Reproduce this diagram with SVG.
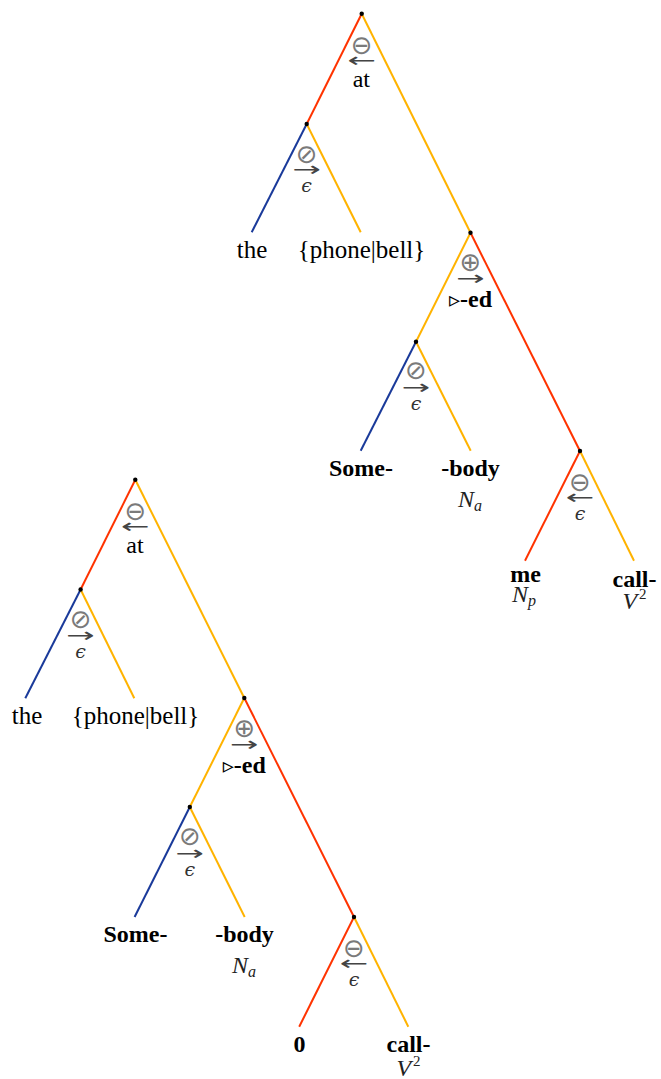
<svg xmlns="http://www.w3.org/2000/svg" width="661" height="1079" viewBox="0 0 661 1079">
<style>
.e{stroke-width:2;fill:none}
.r{stroke:#ff3300}
.y{stroke:#ffb300}
.b{stroke:#1a3a9a}
.dot{fill:#000}
.sym{font-family:"DejaVu Sans",sans-serif;font-size:26px;fill:#7a7a7a;text-anchor:middle}
.arr{font-family:"DejaVu Sans",sans-serif;font-size:20px;fill:#444;text-anchor:middle}
.t{font-family:"Liberation Serif",serif;font-size:24px;fill:#000;text-anchor:middle}
.lf{font-size:25px}
.bd{font-weight:bold}
.it{font-style:italic;fill:#222}
.sub{font-size:16px}
.sup{font-size:15px;font-style:normal}
.eps{font-family:"DejaVu Serif",serif;font-style:italic;font-size:19px;fill:#333;text-anchor:middle}
.tri{font-family:"DejaVu Sans",sans-serif;font-size:22px;font-weight:normal}
</style>
<rect width="661" height="1079" fill="#fff"/>
<g id="connectors">
<line class="e r" x1="361.7" y1="13.8" x2="306.7" y2="124"/>
<line class="e y" x1="361.7" y1="13.8" x2="470.5" y2="232.8"/>
<line class="e b" x1="306.7" y1="124" x2="251.7" y2="232.3"/>
<line class="e y" x1="306.7" y1="124" x2="360.7" y2="232.3"/>
<line class="e y" x1="470.5" y1="232.8" x2="416" y2="341.7"/>
<line class="e r" x1="470.5" y1="232.8" x2="580" y2="451"/>
<line class="e b" x1="416" y1="341.7" x2="360.7" y2="450.7"/>
<line class="e y" x1="416" y1="341.7" x2="470.7" y2="450.7"/>
<line class="e r" x1="580" y1="451" x2="525" y2="560.7"/>
<line class="e y" x1="580" y1="451" x2="634" y2="560.7"/>
<line class="e r" x1="135.3" y1="479.8" x2="80.6" y2="589.5"/>
<line class="e y" x1="135.3" y1="479.8" x2="244.3" y2="698"/>
<line class="e b" x1="80.6" y1="589.5" x2="25.3" y2="698.3"/>
<line class="e y" x1="80.6" y1="589.5" x2="134.3" y2="698.3"/>
<line class="e y" x1="244.3" y1="698" x2="189.8" y2="807"/>
<line class="e r" x1="244.3" y1="698" x2="354" y2="917"/>
<line class="e b" x1="189.8" y1="807" x2="134.6" y2="917"/>
<line class="e y" x1="189.8" y1="807" x2="244.7" y2="917"/>
<line class="e r" x1="354" y1="917" x2="299.2" y2="1026.7"/>
<line class="e y" x1="354" y1="917" x2="408.3" y2="1026.7"/>
</g>
<g id="t1-root">
<circle class="dot" cx="361.7" cy="13.8" r="2.2"/>
<text class="sym" x="361.7" y="53.5">⊖</text>
<text class="arr" transform="translate(361.7,67) scale(1.7,1)">←</text>
<text class="t" x="361.3" y="87">at</text>
</g>
<g id="t1-n1">
<circle class="dot" cx="306.7" cy="124" r="2.2"/>
<text class="sym" x="306.7" y="162.5">⊘</text>
<text class="arr" transform="translate(306.7,176) scale(1.7,1)">→</text>
<text class="eps" x="306.7" y="192">ϵ</text>
</g>
<g id="t1-n2">
<circle class="dot" cx="470.5" cy="232.8" r="2.2"/>
<text class="sym" x="470.5" y="271">⊕</text>
<text class="arr" transform="translate(470.5,285) scale(1.7,1)">→</text>
<text class="t bd" x="470.5" y="307"><tspan class="tri">▹</tspan>-ed</text>
</g>
<g id="t1-n3">
<circle class="dot" cx="416" cy="341.7" r="2.2"/>
<text class="sym" x="416" y="379">⊘</text>
<text class="arr" transform="translate(416,394) scale(1.7,1)">→</text>
<text class="eps" x="416" y="410">ϵ</text>
</g>
<g id="t1-n4">
<circle class="dot" cx="580" cy="451" r="2.2"/>
<text class="sym" x="580" y="490.5">⊖</text>
<text class="arr" transform="translate(580,504) scale(1.7,1)">←</text>
<text class="eps" x="580" y="520">ϵ</text>
</g>
<g id="t1-the"><text class="t lf" x="252" y="258">the</text></g>
<g id="t1-phone"><text class="t lf" x="361.5" y="258">{phone|bell}</text></g>
<g id="t1-some"><text class="t bd" x="361" y="476">Some-</text></g>
<g id="t1-body"><text class="t bd" x="470.5" y="476">-body</text><text class="t it" x="470" y="506.5">N<tspan class="sub" dy="4">a</tspan></text></g>
<g id="t1-me"><text class="t bd" x="525.5" y="581.5">me</text><text class="t it" x="524" y="602">N<tspan class="sub" dy="4">p</tspan></text></g>
<g id="t1-call"><text class="t bd" x="634.5" y="586.5">call-</text><text class="t it" x="634.5" y="609">V<tspan class="sup" dx="2" dy="-10">2</tspan></text></g>
<g id="t2-root">
<circle class="dot" cx="135.3" cy="479.8" r="2.2"/>
<text class="sym" x="135.3" y="519.5">⊖</text>
<text class="arr" transform="translate(135.3,533) scale(1.7,1)">←</text>
<text class="t" x="135" y="552.5">at</text>
</g>
<g id="t2-n1">
<circle class="dot" cx="80.6" cy="589.5" r="2.2"/>
<text class="sym" x="80.6" y="628">⊘</text>
<text class="arr" transform="translate(80.6,641.5) scale(1.7,1)">→</text>
<text class="eps" x="80.6" y="657.5">ϵ</text>
</g>
<g id="t2-n2">
<circle class="dot" cx="244.3" cy="698" r="2.2"/>
<text class="sym" x="244.3" y="736.5">⊕</text>
<text class="arr" transform="translate(244.3,750.5) scale(1.7,1)">→</text>
<text class="t bd" x="244.3" y="772.5"><tspan class="tri">▹</tspan>-ed</text>
</g>
<g id="t2-n3">
<circle class="dot" cx="189.8" cy="807" r="2.2"/>
<text class="sym" x="189.8" y="844.5">⊘</text>
<text class="arr" transform="translate(189.8,859.5) scale(1.7,1)">→</text>
<text class="eps" x="189.8" y="875.5">ϵ</text>
</g>
<g id="t2-n4">
<circle class="dot" cx="354" cy="917" r="2.2"/>
<text class="sym" x="354" y="956.5">⊖</text>
<text class="arr" transform="translate(354,970) scale(1.7,1)">←</text>
<text class="eps" x="354" y="986">ϵ</text>
</g>
<g id="t2-the"><text class="t lf" x="27" y="724">the</text></g>
<g id="t2-phone"><text class="t lf" x="135.5" y="724">{phone|bell}</text></g>
<g id="t2-some"><text class="t bd" x="135.5" y="942">Some-</text></g>
<g id="t2-body"><text class="t bd" x="244.5" y="942">-body</text><text class="t it" x="244" y="972.5">N<tspan class="sub" dy="4">a</tspan></text></g>
<g id="t2-zero"><text class="t bd" x="299.5" y="1051.5">0</text></g>
<g id="t2-call"><text class="t bd" x="408.5" y="1051.5">call-</text><text class="t it" x="408.5" y="1076">V<tspan class="sup" dx="2" dy="-10">2</tspan></text></g>
</svg>
